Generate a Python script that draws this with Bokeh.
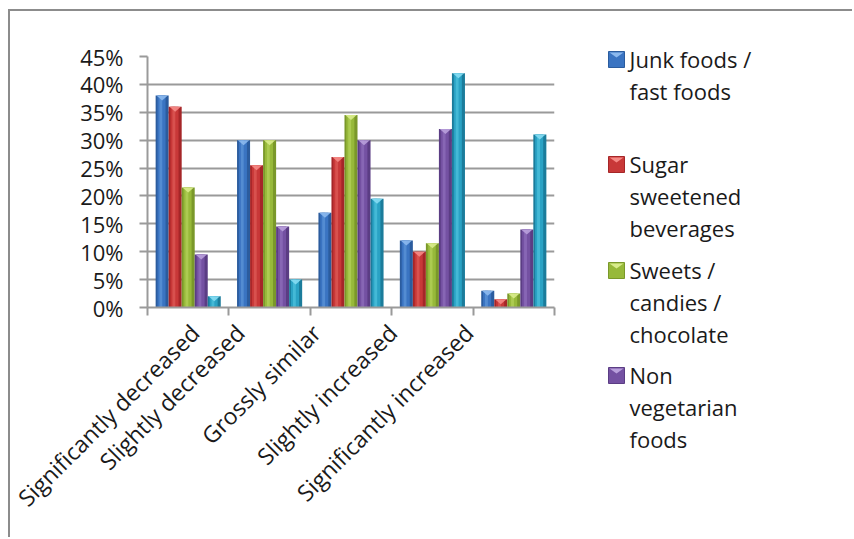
import math
import numpy as np
from bokeh.plotting import figure
from bokeh.models import FixedTicker, PrintfTickFormatter, Range1d
from bokeh.core.properties import value
from bokeh.embed import file_html
from bokeh.resources import INLINE

# ---- data (percent of respondents) ----
categories = ["Significantly decreased", "Slightly decreased", "Grossly similar",
              "Slightly increased", "Significantly increased"]
junk_foods = [38.0, 30.0, 17.0, 12.0, 3.0]
sugar_beverages = [36.0, 25.5, 27.0, 10.0, 1.5]
sweets = [21.5, 30.0, 34.5, 11.5, 2.5]
non_veg = [9.5, 14.5, 30.0, 32.0, 14.0]
fifth_series = [2.0, 5.0, 19.5, 42.0, 31.0]
y_ticks = [0, 5, 10, 15, 20, 25, 30, 35, 40, 45]

legend_lines = [
    ["Junk foods /", "fast foods"],
    ["Sugar", "sweetened", "beverages"],
    ["Sweets /", "candies /", "chocolate"],
    ["Non", "vegetarian", "foods"],
]

series = [junk_foods, sugar_beverages, sweets, non_veg, fifth_series]
# (edge, body, highlight, cap) shades for each series
shades = [
    ("#2b5c9e", "#3a74c2", "#5a92d6", "#8cb9ee"),
    ("#a52628", "#c83838", "#dc5854", "#f58a86"),
    ("#7a982a", "#97b93a", "#b2cf58", "#d9ec8c"),
    ("#5b3d84", "#7451a2", "#8c6bb9", "#b9a0dc"),
    ("#1b7c9b", "#2aa2c4", "#4bbfdb", "#86dcf2"),
]

FONT = "Open Sans"
GRID = "#9a9a9a"
TEXT = "#1a1a1a"

W, H = 844, 528
B_LEFT, B_RIGHT, B_TOP, B_BOTTOM = 137, 300, 45, 232
y_max = 45.0
bar_w = 0.16
offsets = [-0.32, -0.16, 0.0, 0.16, 0.32]

p = figure(width=W, height=H, x_range=Range1d(0, 5), y_range=Range1d(0, y_max),
           output_backend="svg", toolbar_location=None,
           min_border_left=B_LEFT, min_border_right=B_RIGHT,
           min_border_top=B_TOP, min_border_bottom=B_BOTTOM)
p.outline_line_color = None
p.background_fill_color = "white"
p.border_fill_color = "white"
p.styles = {"margin-left": "8px", "margin-top": "9px",
            "border-left": "2px solid #8c8c8c", "border-top": "2px solid #8c8c8c"}

# frame height in px, used to size the bevelled caps
frame_h = H - B_TOP - B_BOTTOM
cap_depth = 5.0 * y_max / frame_h

centers = np.arange(len(categories)) + 0.5
for vals, off, (edge, body, hi, cap) in zip(series, offsets, shades):
    xs = centers + off
    v = np.array(vals)
    p.vbar(x=xs, top=v, bottom=0, width=bar_w, fill_color=edge, line_color=None)
    p.vbar(x=xs - 0.008, top=v, bottom=0, width=bar_w * 0.62, fill_color=body, line_color=None)
    p.vbar(x=xs - 0.016, top=v, bottom=0, width=bar_w * 0.22, fill_color=hi, line_color=None,
           fill_alpha=0.8)
    px = [[x - bar_w / 2 + 0.01, x + bar_w / 2 - 0.01, x] for x in xs]
    py = [[t, t, max(t - cap_depth, 0)] for t in v]
    p.patches(px, py, fill_color=cap, line_color=None, fill_alpha=0.9)

# y axis
p.yaxis.ticker = FixedTicker(ticks=y_ticks)
p.yaxis.formatter = PrintfTickFormatter(format="%d%%")
p.yaxis.axis_line_color = GRID
p.yaxis.axis_line_width = 2
p.yaxis.major_tick_line_color = GRID
p.yaxis.major_tick_line_width = 2
p.yaxis.major_tick_out = 8
p.yaxis.major_tick_in = 0
p.yaxis.minor_tick_line_color = None
p.yaxis.major_label_text_font = FONT
p.yaxis.major_label_text_font_size = "22px"
p.yaxis.major_label_text_color = TEXT
p.yaxis.major_label_standoff = 16

# x axis: slanted labels, tick marks at category boundaries
label_anchor = 0.2 + 0.937 * np.arange(len(categories))
p.xaxis.ticker = FixedTicker(ticks=list(label_anchor),
                             minor_ticks=list(range(len(categories) + 1)))
p.xaxis.major_label_overrides = {float(c): name for c, name in zip(label_anchor, categories)}
p.xaxis.major_label_orientation = math.pi / 4
p.xaxis.major_tick_line_color = None
p.xaxis.major_tick_out = 4
p.xaxis.minor_tick_line_color = GRID
p.xaxis.minor_tick_line_width = 2
p.xaxis.minor_tick_out = 8
p.xaxis.minor_tick_in = 0
p.xaxis.axis_line_color = GRID
p.xaxis.axis_line_width = 2
p.xaxis.major_label_text_font = FONT
p.xaxis.major_label_text_font_size = "23px"
p.xaxis.major_label_text_color = TEXT
p.xaxis.major_label_standoff = 13

p.xgrid.visible = False
p.ygrid.ticker = FixedTicker(ticks=y_ticks)
p.ygrid.grid_line_color = GRID
p.ygrid.grid_line_width = 2

# ---- legend panel, a second canvas laid over the right-hand side ----
LW, LH = 264, 528
lf = figure(width=LW, height=LH, x_range=Range1d(0, LW), y_range=Range1d(LH, 0),
            output_backend="svg", toolbar_location=None,
            x_axis_location=None, y_axis_location=None,
            min_border_left=0, min_border_right=0, min_border_top=0, min_border_bottom=0)
lf.grid.visible = False
lf.outline_line_color = None
lf.background_fill_alpha = 0
lf.border_fill_alpha = 0
lf.styles = {"position": "absolute", "left": "590px", "top": "11px"}

first_baselines = [56, 161, 267, 372]   # bottom edge of each entry's swatch
line_gap = 32.3
text_lift = 9                           # raise the lines so they sit on the swatch bottom
tx, ty, tt = [], [], []
for lines, b0 in zip(legend_lines, first_baselines):
    for k, ln in enumerate(lines):
        tx.append(39)
        ty.append(b0 + k * line_gap - text_lift)
        tt.append(ln)
lf.text(x=tx, y=ty, text=tt, text_font=value(FONT), text_font_size="22px",
        text_color=TEXT, text_baseline="alphabetic", text_align="left")

mk = 16
for (edge, body, hi, cap), b0 in zip(shades[:4], first_baselines):
    lf.quad(left=18, right=18 + mk, top=b0 - mk, bottom=b0, fill_color=body, line_color=edge)
    lf.patch([19, 18 + mk - 1, 18 + mk / 2], [b0 - mk + 1, b0 - mk + 1, b0 - mk + 6],
             fill_color=cap, line_color=None)

open("out.html", "w").write(file_html([p, lf], INLINE))
